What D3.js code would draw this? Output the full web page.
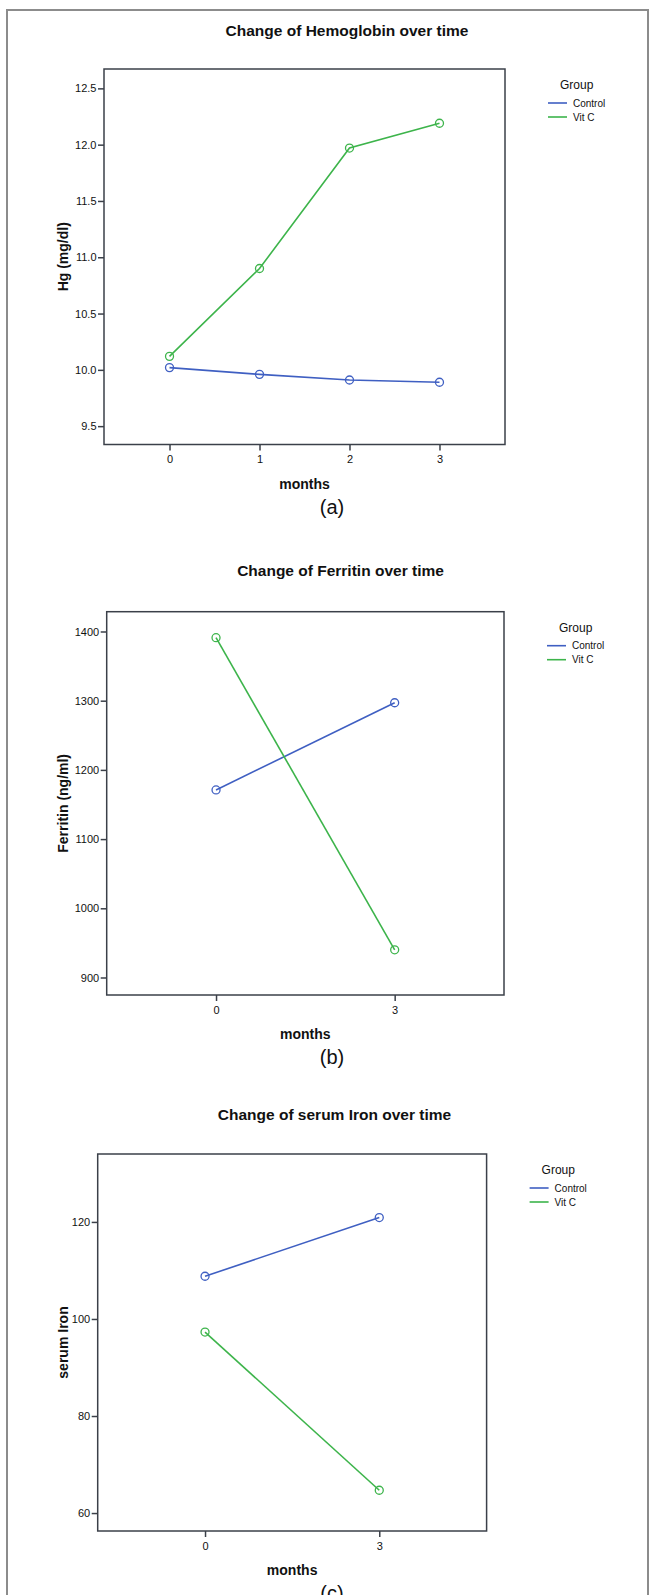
<!DOCTYPE html>
<html>
<head>
<meta charset="utf-8">
<script src="https://cdn.jsdelivr.net/npm/d3@7"></script>
<style>
  html, body { margin: 0; padding: 0; background: #fff; }
  svg { display: block; font-family: "Liberation Sans", Arial, Helvetica, sans-serif; }
</style>
</head>
<body>
<div id="chart"></div>
<script>
// data
const groups = ['Control', 'Vit C'];
const groupColors = ['#3f5fc2', '#3db44b'];

const hgMonths = [0, 1, 2, 3];
const hgControl = [10.02, 9.96, 9.91, 9.89];
const hgVitC = [10.12, 10.90, 11.97, 12.19];
const hgTicks = [9.5, 10.0, 10.5, 11.0, 11.5, 12.0, 12.5];

const ferMonths = [0, 3];
const ferControl = [1171, 1297];
const ferVitC = [1391, 940];
const ferTicks = [900, 1000, 1100, 1200, 1300, 1400];

const ironMonths = [0, 3];
const ironControl = [108.8, 120.9];
const ironVitC = [97.3, 64.7];
const ironTicks = [60, 80, 100, 120];

const W = 650, H = 1595;
const svg = d3.select('#chart').append('svg')
    .attr('width', W).attr('height', H);
svg.append('rect').attr('width', W).attr('height', H).attr('fill', '#fff');

// outer figure border
svg.append('rect')
    .attr('x', 7).attr('y', 10).attr('width', 641).attr('height', H + 20)
    .attr('fill', 'none').attr('stroke', '#8c8c8c').attr('stroke-width', 2);

const panels = [
    { title: 'Change of Hemoglobin over time', titleX: 347, titleY: 36,
      yLabel: 'Hg (mg/dl)', tag: '(a)',
      left: 104, right: 505, top: 69, bottom: 444.5,
      yDomain: [9.337, 12.672], ticks: hgTicks, fmt: d3.format('.1f'),
      months: hgMonths, pad: 0.728, series: [hgControl, hgVitC] },
    { title: 'Change of Ferritin over time', titleX: 340.5, titleY: 576,
      yLabel: 'Ferritin (ng/ml)', tag: '(b)',
      left: 106.7, right: 504, top: 611.7, bottom: 995,
      yDomain: [874.7, 1428.6], ticks: ferTicks, fmt: d3.format('d'),
      months: ferMonths, pad: 0.612, series: [ferControl, ferVitC] },
    { title: 'Change of serum Iron over time', titleX: 334.5, titleY: 1120,
      yLabel: 'serum Iron', tag: '(c)',
      left: 97.7, right: 486.6, top: 1154, bottom: 1531,
      yDomain: [56.3, 134], ticks: ironTicks, fmt: d3.format('d'),
      months: ironMonths, pad: 0.616, series: [ironControl, ironVitC] }
];

const frameColor = '#3b4049';

function drawPanel(p) {
    const g = svg.append('g');
    const x = d3.scalePoint().domain(p.months).range([p.left, p.right]).padding(p.pad);
    const y = d3.scaleLinear().domain(p.yDomain).range([p.bottom, p.top]);

    // title
    g.append('text')
        .attr('x', p.titleX).attr('y', p.titleY)
        .attr('text-anchor', 'middle')
        .style('font-size', '15.5px').style('font-weight', 'bold').style('fill', '#111')
        .text(p.title);

    // y axis
    const yAxis = g.append('g').attr('transform', `translate(${p.left},0)`)
        .call(d3.axisLeft(y).tickValues(p.ticks).tickFormat(p.fmt).tickSize(6).tickPadding(1.5));
    yAxis.select('.domain').remove();
    yAxis.selectAll('line').attr('stroke', frameColor).attr('stroke-width', 1.5);
    yAxis.selectAll('text').style('font-size', '11px').style('fill', '#111').attr('font-family', null);

    // x axis
    const xAxis = g.append('g').attr('transform', `translate(0,${p.bottom})`)
        .call(d3.axisBottom(x).tickSize(6).tickPadding(5));
    xAxis.select('.domain').remove();
    xAxis.selectAll('line').attr('stroke', frameColor).attr('stroke-width', 1.5);
    xAxis.selectAll('text').style('font-size', '11px').style('fill', '#111').attr('font-family', null);

    // plot frame
    g.append('rect')
        .attr('x', p.left).attr('y', p.top)
        .attr('width', p.right - p.left).attr('height', p.bottom - p.top)
        .attr('fill', 'none').attr('stroke', frameColor).attr('stroke-width', 1.5);

    // axis titles
    g.append('text')
        .attr('transform', `translate(63,${(p.top + p.bottom) / 2}) rotate(-90)`)
        .attr('text-anchor', 'middle').attr('dy', '0.35em')
        .style('font-size', '14px').style('font-weight', 'bold').style('fill', '#111')
        .text(p.yLabel);
    g.append('text')
        .attr('x', (p.left + p.right) / 2).attr('y', p.bottom + 44)
        .attr('text-anchor', 'middle')
        .style('font-size', '14px').style('font-weight', 'bold').style('fill', '#111')
        .text('months');
    g.append('text')
        .attr('x', 332).attr('y', p.bottom + 69)
        .attr('text-anchor', 'middle')
        .style('font-size', '20px').style('fill', '#111')
        .text(p.tag);

    // lines + open circle markers
    const line = d3.line().x((d, i) => x(p.months[i])).y(d => y(d));
    p.series.forEach((vals, si) => {
        g.append('path').datum(vals)
            .attr('d', line).attr('fill', 'none')
            .attr('stroke', groupColors[si]).attr('stroke-width', 1.6);
        g.selectAll(null).data(vals).join('circle')
            .attr('cx', (d, i) => x(p.months[i])).attr('cy', d => y(d))
            .attr('r', 4).attr('fill', 'none')
            .attr('stroke', groupColors[si]).attr('stroke-width', 1.3);
    });

    // legend
    const lx = p.right + 43, ly = p.top + 20;
    g.append('text').attr('x', lx + 12).attr('y', ly)
        .style('font-size', '12px').style('fill', '#111').text('Group');
    groups.forEach((name, i) => {
        const yy = ly + 14 + i * 14;
        g.append('line')
            .attr('x1', lx).attr('x2', lx + 19).attr('y1', yy).attr('y2', yy)
            .attr('stroke', groupColors[i]).attr('stroke-width', 1.6);
        g.append('text').attr('x', lx + 25).attr('y', yy).attr('dy', '0.35em')
            .style('font-size', '10px').style('fill', '#111').text(name);
    });
}

panels.forEach(drawPanel);
</script>
</body>
</html>
